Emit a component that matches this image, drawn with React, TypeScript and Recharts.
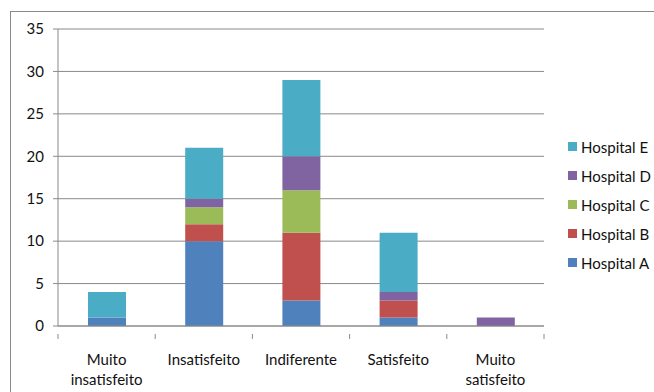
import React from "react";
import { BarChart, Bar, XAxis, YAxis, CartesianGrid, Legend } from "recharts";

const categories = ["Muito insatisfeito", "Insatisfeito", "Indiferente", "Satisfeito", "Muito satisfeito"];
const hospitalA = [1, 10, 3, 1, 0];
const hospitalB = [0, 2, 8, 2, 0];
const hospitalC = [0, 2, 5, 0, 0];
const hospitalD = [0, 1, 4, 1, 1];
const hospitalE = [3, 6, 9, 7, 0];
const yTicks = [0, 5, 10, 15, 20, 25, 30, 35];

const seriesNames = ["Hospital A", "Hospital B", "Hospital C", "Hospital D", "Hospital E"];
const seriesValues = [hospitalA, hospitalB, hospitalC, hospitalD, hospitalE];
const colors = ["#4F81BD", "#C0504D", "#9BBB59", "#8064A2", "#4BACC6"];

const data = categories.map((c, i) => {
  const row: any = { name: c };
  seriesNames.forEach((s, j) => (row[s] = seriesValues[j][i]));
  return row;
});

const FONT = "Lato, 'Open Sans', sans-serif";
const GRID = "#8a8a8a";

const XTick = (props: any) => {
  const { x, y, payload, index } = props;
  const off = payload.offset || 0;
  const words = String(payload.value).split(" ");
  return (
    <g>
      <line x1={x + off} x2={x + off} y1={y} y2={y + 5} stroke={GRID} />
      {index === 0 && <line x1={x - off} x2={x - off} y1={y} y2={y + 5} stroke={GRID} />}
      <text x={x} y={y + 31} textAnchor="middle" fontFamily={FONT} fontSize={15} fill="#111">
        {words.map((w, i) => (
          <tspan key={i} x={x} dy={i === 0 ? 0 : 20}>
            {w}
          </tspan>
        ))}
      </text>
    </g>
  );
};

const LegendContent = (props: any) => {
  const items = [...(props.payload || [])].reverse();
  return (
    <div style={{ fontFamily: FONT, fontSize: 15, color: "#111" }}>
      {items.map((it: any) => (
        <div key={it.value} style={{ display: "flex", alignItems: "center", height: 29 }}>
          <span style={{ width: 9, height: 9, background: it.color, marginRight: 4, display: "inline-block" }} />
          <span>{it.value}</span>
        </div>
      ))}
    </div>
  );
};

export default function App() {
  return (
    <div style={{ position: "absolute", left: 0, top: 0, width: 654, height: 392, overflow: "hidden", background: "#fff" }}>
      <div style={{ position: "absolute", left: 10, top: 11, width: 700, height: 450, border: "1px solid #8a8a8a" }} />
      <BarChart
        width={654}
        height={392}
        data={data}
        margin={{ top: 29, right: 20, bottom: 26, left: 0 }}
        style={{ position: "absolute", left: 0, top: 0 }}
      >
        <CartesianGrid vertical={false} stroke={GRID} strokeDasharray="" />
        <XAxis
          dataKey="name"
          height={40}
          tick={<XTick />}
          tickLine={false}
          axisLine={{ stroke: GRID }}
          interval={0}
        />
        <YAxis
          width={58}
          domain={[0, 35]}
          ticks={yTicks}
          tickSize={5}
          tickMargin={9}
          tickLine={{ stroke: GRID }}
          axisLine={{ stroke: GRID }}
          tick={{ fontFamily: FONT, fontSize: 15, fill: "#111" }}
        />
        <Legend
          layout="vertical"
          align="right"
          verticalAlign="top"
          content={<LegendContent />}
          wrapperStyle={{ left: 568, top: 132, width: 90 }}
        />
        {seriesNames.map((s, j) => (
          <Bar key={s} dataKey={s} stackId="a" fill={colors[j]} barSize={38} isAnimationActive={false} />
        ))}
      </BarChart>
    </div>
  );
}
